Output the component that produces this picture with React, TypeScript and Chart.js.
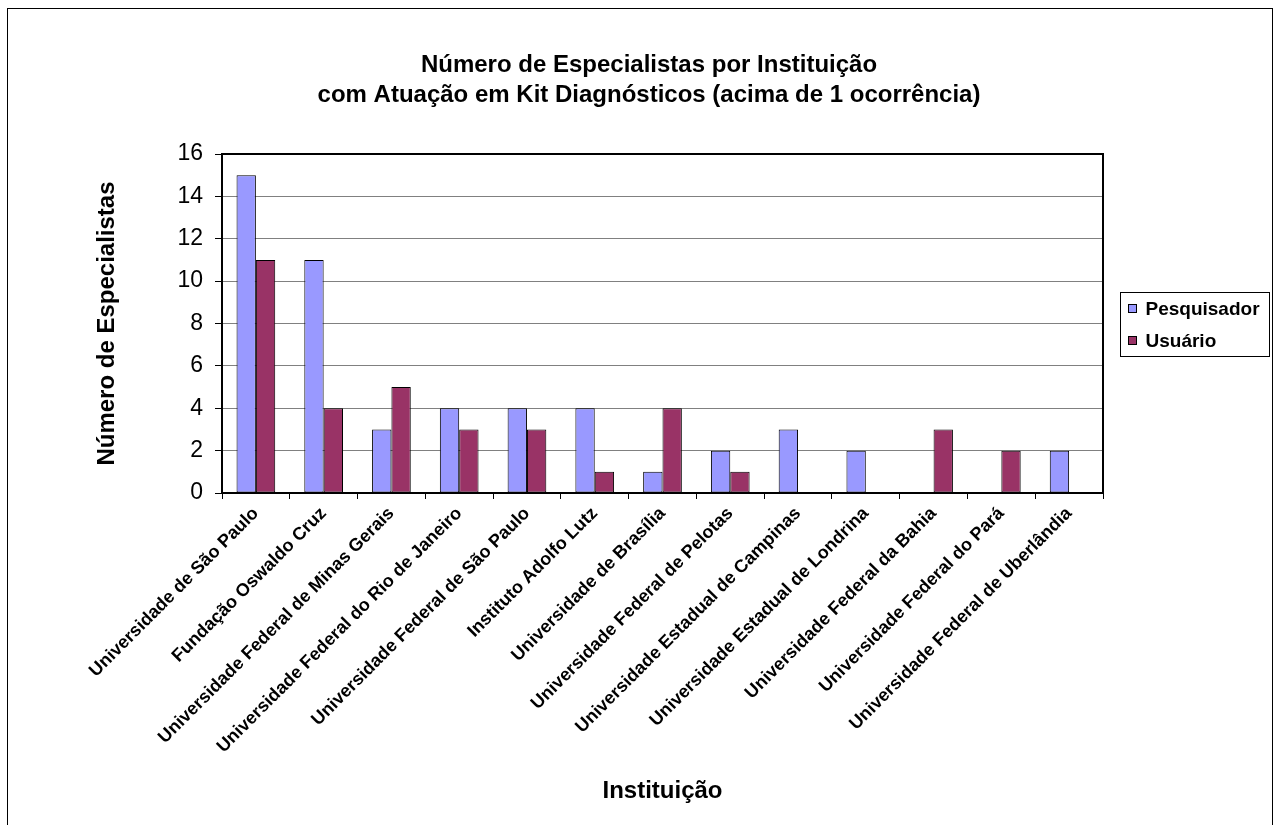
import React, { useEffect, useRef } from "react";
import { Chart, registerables } from "chart.js";

Chart.register(...registerables);

const categories = [
  "Universidade de São Paulo",
  "Fundação Oswaldo Cruz",
  "Universidade Federal de Minas Gerais",
  "Universidade Federal do Rio de Janeiro",
  "Universidade Federal de São Paulo",
  "Instituto Adolfo Lutz",
  "Universidade de Brasília",
  "Universidade Federal de Pelotas",
  "Universidade Estadual de Campinas",
  "Universidade Estadual de Londrina",
  "Universidade Federal da Bahia",
  "Universidade Federal do Pará",
  "Universidade Federal de Uberlândia",
];
const pesquisador = [15, 11, 3, 4, 4, 4, 1, 2, 3, 2, 0, 0, 2];
const usuario = [11, 4, 5, 3, 3, 1, 4, 1, 0, 0, 3, 2, 0];
const seriesNames = ["Pesquisador", "Usuário"];
const seriesColors = ["#9999FF", "#993366"];
const yMin = 0;
const yMax = 16;
const yStep = 2;
const titleLines = [
  "Número de Especialistas por Instituição",
  "com Atuação em Kit Diagnósticos (acima de 1 ocorrência)",
];
const xTitle = "Instituição";
const yTitle = "Número de Especialistas";

const FONT = "'Liberation Sans', Arial, Helvetica, sans-serif";

const framePlugin = {
  id: "excelFrame",
  beforeDraw(chart: any) {
    const ctx = chart.ctx;
    ctx.save();
    ctx.fillStyle = "#ffffff";
    ctx.fillRect(0, 0, chart.width, chart.height);
    ctx.restore();
  },
  afterDraw(chart: any) {
    const ctx = chart.ctx;
    const a = chart.chartArea;
    ctx.save();
    // outer chart border
    ctx.strokeStyle = "#000";
    ctx.lineWidth = 1;
    ctx.strokeRect(7.5, 8.5, 1265, 900);
    // plot area frame
    ctx.lineWidth = 2;
    ctx.strokeRect(a.left, a.top, a.right - a.left, a.bottom - a.top);

    // legend box
    const bx = a.right + 17.5;
    const bw = 149;
    const bh = 64;
    const by = Math.round((a.top + a.bottom) / 2 - bh / 2) + 0.5;
    ctx.lineWidth = 1;
    ctx.strokeRect(bx, by, bw, bh);
    const rowH = 32;
    ctx.font = `bold 19px ${FONT}`;
    ctx.textBaseline = "middle";
    ctx.textAlign = "left";
    chart.data.datasets.forEach((ds: any, i: number) => {
      const cy = by + 16 + i * rowH;
      ctx.fillStyle = ds.backgroundColor;
      ctx.fillRect(bx + 8, cy - 4, 8, 8);
      ctx.strokeStyle = "#000";
      ctx.lineWidth = 1;
      ctx.strokeRect(bx + 8, cy - 4, 8, 8);
      ctx.fillStyle = "#000";
      ctx.fillText(ds.label, bx + 25, cy + 1);
    });
    ctx.restore();
  },
};

export default function App() {
  const ref = useRef<HTMLCanvasElement | null>(null);

  useEffect(() => {
    if (!ref.current) return;
    const chart = new Chart(ref.current, {
      type: "bar",
      data: {
        labels: categories,
        datasets: [
          {
            label: seriesNames[0],
            data: pesquisador,
            backgroundColor: seriesColors[0],
            borderColor: "#000",
            borderWidth: 1,
            borderSkipped: false,
            categoryPercentage: 0.571,
            barPercentage: 1,
            yAxisID: "y",
          },
          {
            label: seriesNames[1],
            data: usuario,
            backgroundColor: seriesColors[1],
            borderColor: "#000",
            borderWidth: 1,
            borderSkipped: false,
            categoryPercentage: 0.571,
            barPercentage: 1,
            yAxisID: "y",
          },
        ],
      },
      options: {
        responsive: false,
        animation: false,
        devicePixelRatio: 1,
        layout: { padding: { left: 20, right: 1, top: 10, bottom: 8 } },
        plugins: {
          legend: { display: false },
          tooltip: { enabled: false },
          title: {
            display: true,
            text: titleLines,
            color: "#000",
            font: { family: FONT, size: 24, weight: "bold", lineHeight: 30 / 24 },
            padding: { top: 40, bottom: 44 },
          },
        },
        scales: {
          x: {
            offset: true,
            grid: {
              display: true,
              drawOnChartArea: false,
              drawTicks: true,
              tickLength: 6,
              tickColor: "#000",
              offset: true,
              lineWidth: 1,
            },
            border: { display: true, color: "#000", width: 2 },
            ticks: {
              autoSkip: false,
              maxRotation: 45,
              minRotation: 45,
              color: "#000",
              padding: 4,
              font: { family: FONT, size: 18, weight: "bold" },
            },
            title: {
              display: true,
              text: xTitle,
              color: "#000",
              font: { family: FONT, size: 24, weight: "bold" },
              padding: { top: 0, bottom: 11 },
            },
            afterFit: (s: any) => {
              s.height = 324;
            },
          },
          y: {
            min: yMin,
            max: yMax,
            ticks: {
              stepSize: yStep,
              color: "#000",
              padding: 12,
              font: { family: FONT, size: 23 },
            },
            grid: {
              color: "#808080",
              lineWidth: 1,
              tickColor: "#000",
              tickLength: 7,
              drawTicks: true,
            },
            border: { display: true, color: "#000", width: 2 },
            title: {
              display: true,
              text: yTitle,
              color: "#000",
              font: { family: FONT, size: 24, weight: "bold" },
              padding: { top: 73, bottom: 0 },
            },
            afterFit: (s: any) => {
              s.width = 202;
            },
          },
          y2: {
            position: "right",
            display: true,
            grid: { display: false, drawTicks: false },
            border: { display: false },
            ticks: { display: false },
            afterFit: (s: any) => {
              s.width = 175;
            },
          },
        },
      },
      plugins: [framePlugin],
    } as any);
    return () => chart.destroy();
  }, []);

  return (
    <div
      style={{
        position: "fixed",
        left: 0,
        top: 0,
        width: 1279,
        height: 825,
        background: "#fff",
      }}
    >
      <canvas ref={ref} width={1279} height={825} style={{ display: "block" }} />
    </div>
  );
}
